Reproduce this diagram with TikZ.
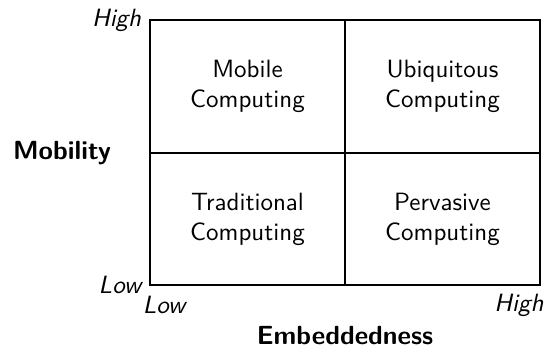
\documentclass[tikz,border=0pt]{standalone}
\begin{document}
\begin{tikzpicture}[x=0.4pt,y=-0.4pt,
  every node/.style={font=\sffamily},
  cell/.style={align=center},
  axislab/.style={font=\sffamily\itshape},
  title/.style={font=\sffamily\bfseries\fontsize{10.5}{12.6}\selectfont},
  grid/.style={line width=0.5pt}]
\useasboundingbox (0,0) rectangle (551,347);
\coordinate (tl) at (150,20);
\coordinate (br) at (540,285);
\coordinate (bl) at (150,285);
\draw[grid] (tl) rectangle (br);
\coordinate (mt) at (345,20);
\coordinate (mb) at (345,285);
\coordinate (ml) at (150,153);
\coordinate (mr) at (540,153);
\draw[grid] (mt) -- (mb);
\draw[grid] (ml) -- (mr);
\node[cell] (mob) at (247.5,86.5) {Mobile\\Computing};
\node[cell] (ubi) at (442.5,86.5) {Ubiquitous\\Computing};
\node[cell] (tra) at (247.5,219) {Traditional\\Computing};
\node[cell] (per) at (442.5,219) {Pervasive\\Computing};
\node[axislab,left] (yhigh) at (tl) {High};
\node[axislab,left] (ylow) at (bl) {Low};
\node[axislab] (xlow) at (164,305) {Low};
\node[axislab] (xhigh) at (519,305) {High};
\node[title] (ytitle) at (62,153) {Mobility};
\node[title] (xtitle) at (345,336) {Embeddedness};
\end{tikzpicture}
\end{document}
